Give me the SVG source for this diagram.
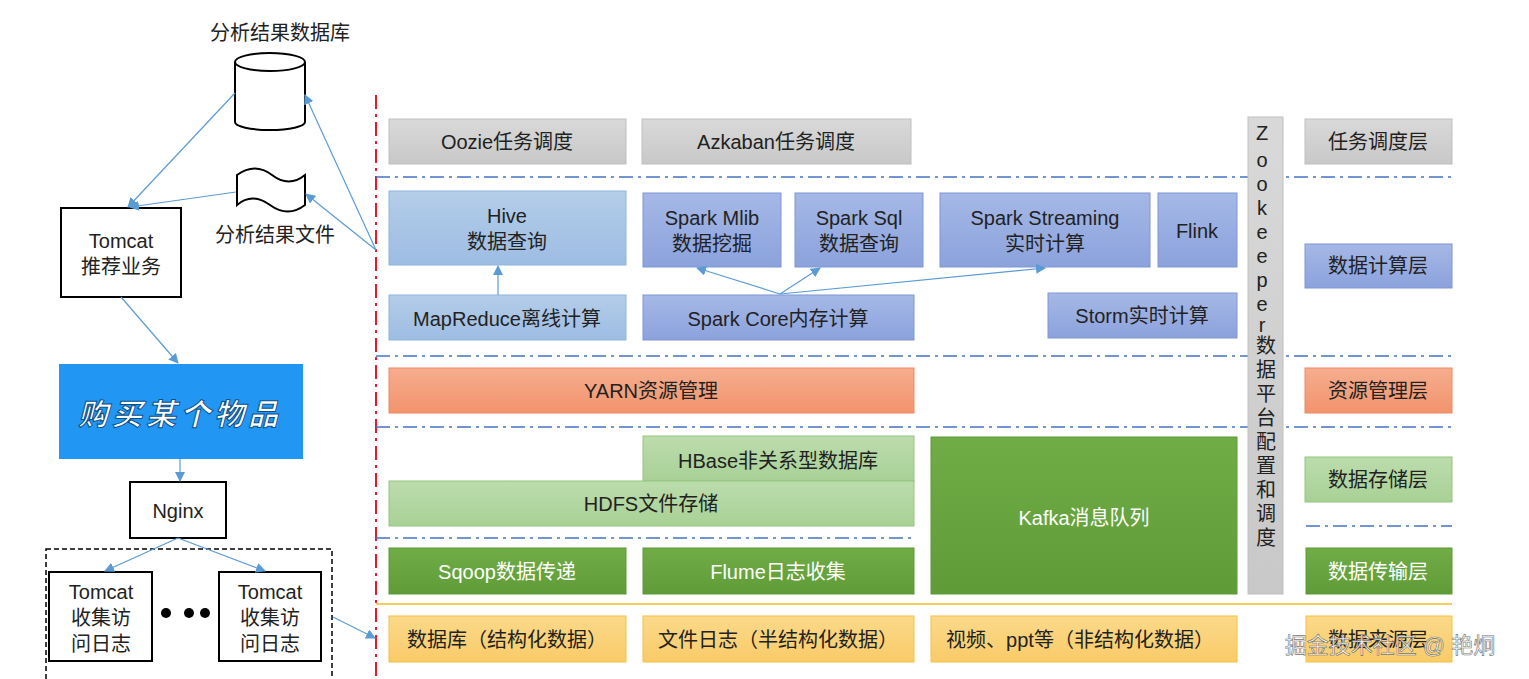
<svg xmlns="http://www.w3.org/2000/svg" width="1529" height="679" viewBox="0 0 1529 679">
<defs>
<marker id="ah" markerWidth="10" markerHeight="10" refX="9" refY="5" orient="auto" markerUnits="userSpaceOnUse" viewBox="0 0 10 10"><path d="M0,0 L10,5 L0,10 z" fill="#5b9bd5"/></marker>
<linearGradient id="gGray" x1="0" y1="0" x2="0" y2="1"><stop offset="0" stop-color="#d9d9d9"/><stop offset="1" stop-color="#c8c8c8"/></linearGradient>
<linearGradient id="gLB" x1="0" y1="0" x2="0" y2="1"><stop offset="0" stop-color="#b4cde9"/><stop offset="1" stop-color="#9dbde3"/></linearGradient>
<linearGradient id="gDB" x1="0" y1="0" x2="0" y2="1"><stop offset="0" stop-color="#a5b8e6"/><stop offset="1" stop-color="#8ba2dc"/></linearGradient>
<linearGradient id="gOr" x1="0" y1="0" x2="0" y2="1"><stop offset="0" stop-color="#f6ad8f"/><stop offset="1" stop-color="#f2946c"/></linearGradient>
<linearGradient id="gLG" x1="0" y1="0" x2="0" y2="1"><stop offset="0" stop-color="#bcdcac"/><stop offset="1" stop-color="#a8d196"/></linearGradient>
<linearGradient id="gG" x1="0" y1="0" x2="0" y2="1"><stop offset="0" stop-color="#70ad47"/><stop offset="1" stop-color="#5f9c37"/></linearGradient>
<linearGradient id="gY" x1="0" y1="0" x2="0" y2="1"><stop offset="0" stop-color="#fbd98a"/><stop offset="1" stop-color="#f9cb68"/></linearGradient>
</defs>
<style>
text{font-family:"Liberation Sans","Noto Sans CJK SC",sans-serif;font-size:20px;fill:#222;text-anchor:middle;dominant-baseline:central}
.w{fill:#fff}
.gray{fill:url(#gGray);stroke:#bfbfbf}
.lb{fill:url(#gLB);stroke:#8fb4de}
.db{fill:url(#gDB);stroke:#7f96d6}
.or{fill:url(#gOr);stroke:#ee8a5f}
.lg{fill:url(#gLG);stroke:#94c57e}
.g{fill:url(#gG);stroke:#5d9a35}
.y{fill:url(#gY);stroke:#f5c242}
.bx{fill:#fff;stroke:#000;stroke-width:2}
.conn{stroke:#5b9bd5;stroke-width:1.2;fill:none;marker-end:url(#ah)}
.dd{stroke:#4472c4;stroke-width:1.5;stroke-dasharray:14,5,3,5;fill:none}
</style>
<g id="separators">
<line x1="376" y1="95" x2="376" y2="679" stroke="#e8192c" stroke-width="2" stroke-dasharray="14,5,3,5"/>
<line class="dd" x1="376" y1="177" x2="1452" y2="177"/>
<line class="dd" x1="376" y1="356" x2="1452" y2="356"/>
<line class="dd" x1="376" y1="427" x2="1452" y2="427"/>
<line class="dd" x1="376" y1="538" x2="915" y2="538"/>
<line class="dd" x1="1306" y1="526" x2="1452" y2="526"/>
<line x1="376" y1="604" x2="1452" y2="604" stroke="#f8cc5a" stroke-width="2"/>
</g>
<g id="zookeeper"><rect x="1248" y="117" width="35" height="477" class="gray"/>
<text x="1262" y="133">Z</text><text x="1262" y="160">o</text><text x="1262" y="184">o</text><text x="1262" y="208">k</text><text x="1262" y="232">e</text><text x="1262" y="256">e</text><text x="1262" y="280">p</text><text x="1262" y="304">e</text><text x="1262" y="325">r</text>
<text x="1266" y="346">数</text><text x="1266" y="370">据</text><text x="1266" y="394">平</text><text x="1266" y="418">台</text><text x="1266" y="442">配</text><text x="1266" y="466">置</text><text x="1266" y="490">和</text><text x="1266" y="514">调</text><text x="1266" y="538">度</text></g>
<g id="oozie"><rect x="389" y="119" width="237" height="45" class="gray"/><text x="507" y="142">Oozie任务调度</text></g>
<g id="azkaban"><rect x="642" y="119" width="269" height="45" class="gray"/><text x="776" y="142">Azkaban任务调度</text></g>
<g id="l1"><rect x="1305" y="119" width="147" height="45" class="gray"/><text x="1378" y="142">任务调度层</text></g>
<g id="hive"><rect x="389" y="191" width="237" height="74" class="lb"/><text x="507" y="216">Hive</text><text x="507" y="242">数据查询</text></g>
<g id="mapreduce"><rect x="389" y="295" width="237" height="45" class="lb"/><text x="507" y="319">MapReduce离线计算</text></g>
<g id="mlib"><rect x="643" y="193" width="138" height="74" class="db"/><text x="712" y="218">Spark Mlib</text><text x="712" y="244">数据挖掘</text></g>
<g id="sql"><rect x="795" y="193" width="128" height="74" class="db"/><text x="859" y="218">Spark Sql</text><text x="859" y="244">数据查询</text></g>
<g id="streaming"><rect x="940" y="193" width="210" height="74" class="db"/><text x="1045" y="218">Spark Streaming</text><text x="1045" y="244">实时计算</text></g>
<g id="flink"><rect x="1158" y="193" width="79" height="74" class="db"/><text x="1197" y="231">Flink</text></g>
<g id="sparkcore"><rect x="643" y="295" width="271" height="45" class="db"/><text x="778" y="319">Spark Core内存计算</text></g>
<g id="storm"><rect x="1048" y="293" width="189" height="45" class="db"/><text x="1142" y="316">Storm实时计算</text></g>
<g id="l2"><rect x="1305" y="244" width="147" height="44" class="db"/><text x="1378" y="266">数据计算层</text></g>
<g id="yarn"><rect x="389" y="368" width="525" height="45" class="or"/><text x="651" y="391">YARN资源管理</text></g>
<g id="l3"><rect x="1305" y="368" width="147" height="45" class="or"/><text x="1378" y="391">资源管理层</text></g>
<g id="hbase"><rect x="643" y="436" width="271" height="45" class="lg"/><text x="778" y="461">HBase非关系型数据库</text></g>
<g id="hdfs"><rect x="389" y="481" width="525" height="45" class="lg"/><text x="651" y="504">HDFS文件存储</text></g>
<g id="kafka"><rect x="931" y="437" width="306" height="157" class="g"/><text x="1084" y="518" class="w">Kafka消息队列</text></g>
<g id="l4"><rect x="1305" y="457" width="147" height="45" class="lg"/><text x="1378" y="480">数据存储层</text></g>
<g id="sqoop"><rect x="389" y="548" width="237" height="46" class="g"/><text x="507" y="572" class="w">Sqoop数据传递</text></g>
<g id="flume"><rect x="643" y="548" width="271" height="46" class="g"/><text x="778" y="572" class="w">Flume日志收集</text></g>
<g id="l5"><rect x="1306" y="548" width="146" height="46" class="g"/><text x="1378" y="572" class="w">数据传输层</text></g>
<g id="src1"><rect x="389" y="616" width="237" height="46" class="y"/><text x="507" y="640">数据库（结构化数据）</text></g>
<g id="src2"><rect x="643" y="616" width="271" height="46" class="y"/><text x="778" y="640">文件日志（半结构化数据）</text></g>
<g id="src3"><rect x="931" y="616" width="306" height="46" class="y"/><text x="1080" y="640">视频、ppt等（非结构化数据）</text></g>
<g id="l6"><rect x="1306" y="616" width="146" height="46" class="y"/><text x="1378" y="640">数据来源层</text></g>
<g id="resultdb"><text x="280" y="33">分析结果数据库</text>
<path d="M235,62 V122 A35,8 0 0 0 305,122 V62" class="bx"/><ellipse cx="270" cy="62" rx="35" ry="9" class="bx"/></g>
<g id="resultfile"><path d="M237,175 Q255,162 272,175 T305,175 V205 Q288,218 270,205 T237,205 Z" class="bx"/><text x="275" y="235">分析结果文件</text></g>
<g id="tomcatrec"><rect x="61" y="208" width="120" height="89" class="bx"/><text x="121" y="241">Tomcat</text><text x="121" y="267">推荐业务</text></g>
<g id="buy"><rect x="59" y="364" width="244" height="95" fill="#2196f3"/><text x="180" y="414" class="w" style="font-size:30px;font-weight:bold;font-style:italic;letter-spacing:4px;stroke:#0b4f8a;stroke-width:1">购买某个物品</text></g>
<g id="nginx"><rect x="130" y="482" width="96" height="56" class="bx"/><text x="178" y="511">Nginx</text></g>
<g id="cluster"><rect x="46" y="549" width="286" height="135" fill="none" stroke="#000" stroke-width="1.5" stroke-dasharray="5,3"/>
<circle cx="166" cy="613" r="5"/><circle cx="189" cy="613" r="5"/><circle cx="205" cy="613" r="5"/></g>
<g id="tomcat1"><rect x="49" y="572" width="103" height="89" class="bx"/><text x="101" y="592">Tomcat</text><text x="101" y="618">收集访</text><text x="101" y="644">问日志</text></g>
<g id="tomcat2"><rect x="219" y="572" width="102" height="89" class="bx"/><text x="270" y="592">Tomcat</text><text x="270" y="618">收集访</text><text x="270" y="644">问日志</text></g>
<g id="connectors">
<line class="conn" x1="376" y1="250" x2="305" y2="95"/>
<line class="conn" x1="376" y1="250" x2="306" y2="194"/>
<line class="conn" x1="235" y1="93" x2="128" y2="207"/>
<line class="conn" x1="236" y1="192" x2="130" y2="207"/>
<line class="conn" x1="121" y1="297" x2="178" y2="363"/>
<line class="conn" x1="180" y1="459" x2="180" y2="481"/>
<line class="conn" x1="178" y1="538" x2="105" y2="571"/>
<line class="conn" x1="178" y1="538" x2="265" y2="571"/>
<line class="conn" x1="333" y1="617" x2="375" y2="638"/>
<line class="conn" x1="498" y1="295" x2="498" y2="266"/>
<line class="conn" x1="780" y1="294" x2="697" y2="268"/>
<line class="conn" x1="780" y1="294" x2="820" y2="268"/>
<line class="conn" x1="780" y1="294" x2="1045" y2="268"/>
</g>
<text x="1390" y="645" style="font-size:22px;fill:#fff;stroke:#666;stroke-width:0.6;opacity:0.9">掘金技术社区 @ 艳炯</text>
</svg>
